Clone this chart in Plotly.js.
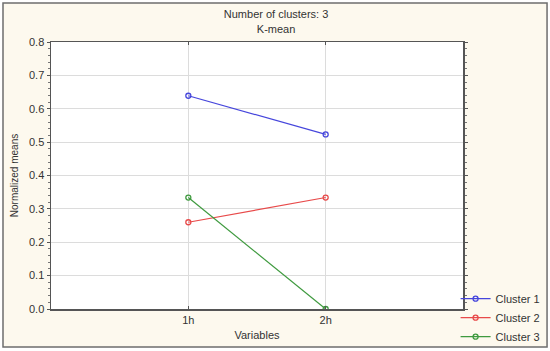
<!DOCTYPE html>
<html><head><meta charset="utf-8">
<script src="https://cdn.plot.ly/plotly-3.0.1.min.js"></script>
<style>html,body{margin:0;padding:0;background:#fff}#chart{width:550px;height:351px}</style>
</head><body><div id="chart"></div>
<script>
const variables = ["1h", "2h"];
const variablePos = [1, 2];
const cluster1 = [0.639, 0.523];
const cluster2 = [0.260, 0.334];
const cluster3 = [0.334, 0.0];
const seriesNames = ["Cluster 1", "Cluster 2", "Cluster 3"];
const seriesColors = ["#4646dc", "#e84a4a", "#3f9a3f"];
const seriesValues = [cluster1, cluster2, cluster3];

const traces = seriesValues.map((v, i) => ({
  x: variablePos, y: v, type: "scatter", mode: "lines+markers", name: seriesNames[i],
  line: {color: seriesColors[i], width: 1.2},
  marker: {symbol: "circle-open", size: 5, color: seriesColors[i], line: {width: 1.3}}
}));

const font = {family: "Liberation Sans, Arial, sans-serif", size: 11, color: "#333"};
const layout = {
  width: 550, height: 351,
  margin: {l: 51, r: 87, t: 42, b: 42, autoexpand: false},
  paper_bgcolor: "#ffffff", plot_bgcolor: "rgba(0,0,0,0)",
  font: font,
  showlegend: true,
  title: {text: "Number of clusters: 3<br>K-mean", x: 0.502, xref: "container", xanchor: "center",
          yref: "container", y: 0.948, yanchor: "middle",
          font: {family: font.family, size: 11, color: "#333"}},
  xaxis: {range: [0, 3], tickvals: variablePos, ticktext: variables,
          showgrid: true, gridcolor: "#dcdcdc", gridwidth: 1, zeroline: false,
          showline: true, linecolor: "#555", linewidth: 1.5, mirror: "ticks",
          ticks: "inside", ticklen: 3, tickcolor: "#555",
          title: {text: "Variables", standoff: 6, font: {size: 11, color: "#333"}}},
  yaxis: {range: [0, 0.8], dtick: 0.1, tickformat: ".1f",
          showgrid: true, gridcolor: "#dcdcdc", gridwidth: 1, zeroline: false,
          showline: true, linecolor: "#555", linewidth: 1.5, mirror: "ticks",
          ticks: "outside", ticklen: 3, tickcolor: "#555",
          minor: {dtick: 0.02, ticks: "outside", ticklen: 2, tickcolor: "#777", showgrid: false},
          title: {text: "Normalized means", standoff: 8, font: {size: 10, color: "#333"}}},
  legend: {x: 0.982, xanchor: "left", y: -0.158, yanchor: "bottom",
           bgcolor: "rgba(0,0,0,0)", font: {size: 11, color: "#333"},
           tracegroupgap: 0, itemwidth: 30},
  shapes: [
    {type: "rect", xref: "paper", yref: "paper", x0: -0.1165, x1: 1.204, y0: -0.1423, y1: 1.146,
     fillcolor: "#fdf9ee", line: {color: "#6e6e6e", width: 1.5}, layer: "below"},
    {type: "rect", xref: "paper", yref: "paper", x0: 0, x1: 1, y0: 0, y1: 1,
     fillcolor: "#ffffff", line: {width: 0}, layer: "below"}
  ]
};
Plotly.newPlot("chart", traces, layout, {displayModeBar: false, staticPlot: true});
</script></body></html>
